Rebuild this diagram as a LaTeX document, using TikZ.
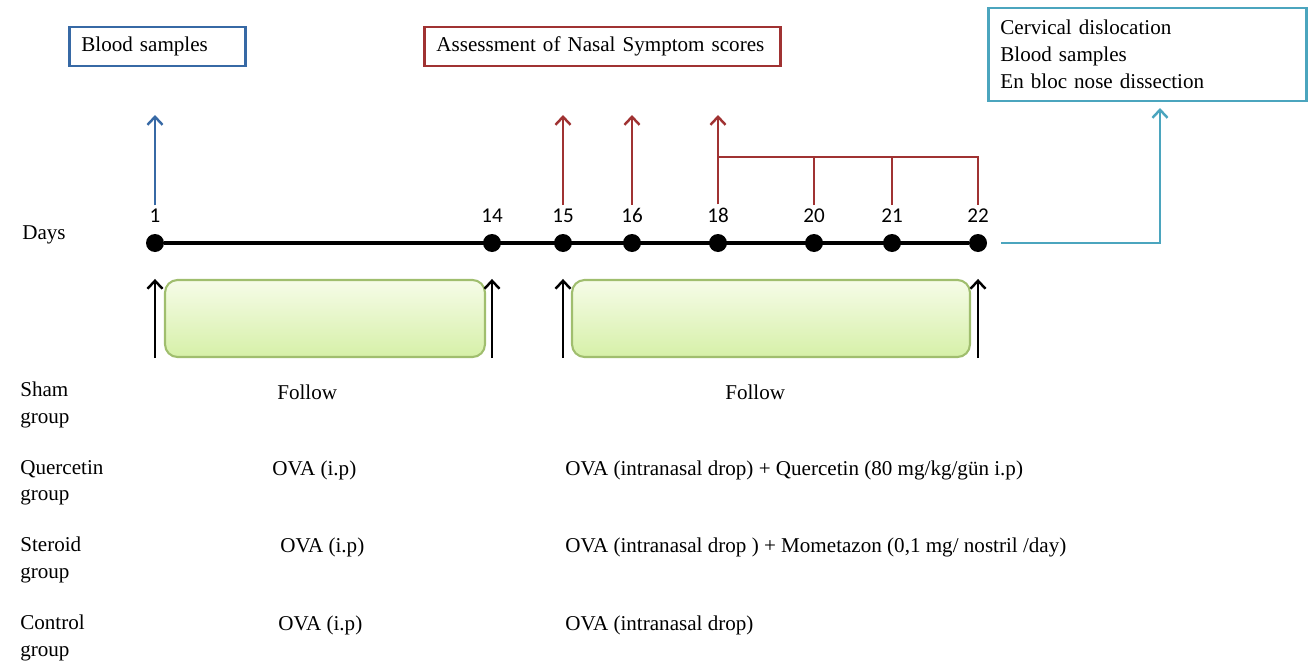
\documentclass[tikz,border=0pt]{standalone}
\usepackage{fontspec}
\setmainfont{Liberation Serif}
\newfontfamily\numfont{Carlito}
\usetikzlibrary{positioning,arrows.meta}
\definecolor{bloodblue}{RGB}{55,105,165}
\definecolor{nasalred}{RGB}{160,50,50}
\definecolor{endteal}{RGB}{75,165,190}
\definecolor{phasetop}{RGB}{246,252,232}
\definecolor{phasebot}{RGB}{214,240,168}
\definecolor{phaseline}{RGB}{160,190,110}

\begin{document}
\begin{tikzpicture}[x=0.02cm, y=-0.02cm, font=\fontsize{12}{15}\selectfont,
    day/.style = {circle, fill=black, inner sep=0pt, minimum size=0.36cm},
    num/.style = {font=\numfont\fontsize{12}{14}\selectfont, inner sep=2pt, label distance=0.14cm},
    note/.style = {draw, line width=1.6pt, align=left, inner xsep=0.24cm, minimum height=0.78cm, anchor=west},
    phase/.style = {draw=phaseline, line width=1.2pt, rounded corners=0.25cm, top color=phasetop, bottom color=phasebot, minimum height=1.54cm},
    txt/.style = {anchor=west, align=left, inner sep=0pt},
    up/.style = {-{Straight Barb[length=1.6mm,width=3mm]}, line width=1.4pt}]
    \useasboundingbox (0,0) rectangle (1309,663);

    % boxes on top
    \node[note, draw=bloodblue, text width=3.04cm] (bs) at (68,46.5) {Blood samples};
    \node[note, draw=nasalred, text width=6.64cm] (nss) at (423,46.5) {Assessment of Nasal Symptom scores};
    \node[note, draw=endteal, text width=5.88cm, minimum height=1.86cm, font=\fontsize{12}{15.3}\selectfont] (end) at (987,54.5) {Cervical dislocation\\Blood samples\\En bloc nose dissection};

    % time line
    \node[txt] (days) at (22,235) {Days};
    \node[day, label={[num, name=n1]above:1}] (d1) at (155,243) {};
    \node[day, label={[num, name=n14]above:14}] (d14) at (492,243) {};
    \node[day, label={[num, name=n15]above:15}] (d15) at (563,243) {};
    \node[day, label={[num, name=n16]above:16}] (d16) at (632,243) {};
    \node[day, label={[num, name=n18]above:18}] (d18) at (718,243) {};
    \node[day, label={[num, name=n20]above:20}] (d20) at (814,243) {};
    \node[day, label={[num, name=n21]above:21}] (d21) at (892,243) {};
    \node[day, label={[num, name=n22]above:22}] (d22) at (978,243) {};
    \draw[line width=2.3pt] (d1) -- (d22);

    % arrows up to the boxes
    \coordinate (b1) at (155,115);
    \coordinate (r15) at (563,115);
    \coordinate (r16) at (632,115);
    \coordinate (r18) at (718,115);
    \coordinate (t1) at (1160,108);
    \draw[up, bloodblue] (n1.north) -- (b1);
    \draw[up, nasalred] (n15.north) -- (r15);
    \draw[up, nasalred] (n16.north) -- (r16);
    \draw[up, nasalred] (n18.north) -- (r18);
    \draw[nasalred, line width=1.4pt] (n18.north |- 0,157) -- (n22.north |- 0,157) -- (n22.north);
    \draw[nasalred, line width=1.4pt] (n20.north) -- (n20.north |- 0,157);
    \draw[nasalred, line width=1.4pt] (n21.north) -- (n21.north |- 0,157);
    \draw[up, endteal] ([xshift=0.28cm]d22.east) -| (t1);

    % phases
    \node[phase, minimum width=6.4cm] (p1) at (325,318.5) {};
    \node[phase, minimum width=7.96cm] (p2) at (771,318.5) {};
    \draw[up] (d1 |- p1.south) -- (d1 |- p1.north);
    \draw[up] (d14 |- p1.south) -- (d14 |- p1.north);
    \draw[up] (d15 |- p2.south) -- (d15 |- p2.north);
    \draw[up] (d22 |- p2.south) -- (d22 |- p2.north);

    % groups
    \node[txt] (sham) at (20,405) {Sham\\group};
    \node[txt] (quer) at (20,483) {Quercetin\\group};
    \node[txt] (ster) at (20,560) {Steroid\\group};
    \node[txt] (ctrl) at (20,638) {Control\\group};

    \node[txt] (sham1) at (277,392) {Follow};
    \node[txt] (sham2) at (725,392) {Follow};
    \node[txt] (quer1) at (272,470) {OVA (i.p)};
    \node[txt] (quer2) at (565,470) {OVA (intranasal drop) + Quercetin (80 mg/kg/gün i.p)};
    \node[txt] (ster1) at (280,547) {OVA (i.p)};
    \node[txt] (ster2) at (565,547) {OVA (intranasal drop ) + Mometazon (0,1 mg/ nostril /day)};
    \node[txt] (ctrl1) at (278,625) {OVA (i.p)};
    \node[txt] (ctrl2) at (565,625) {OVA (intranasal drop)};

\end{tikzpicture}
\end{document}
